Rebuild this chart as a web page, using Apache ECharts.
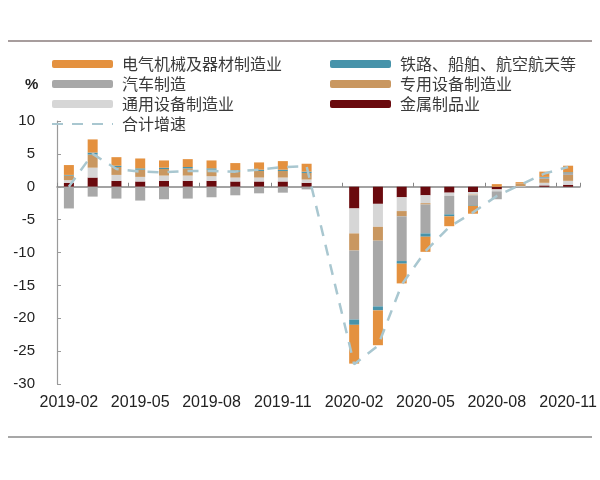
<!DOCTYPE html>
<html>
<head>
<meta charset="utf-8">
<script src="https://cdn.jsdelivr.net/npm/echarts@6/dist/echarts.min.js"></script>
<style>html,body{margin:0;padding:0;background:#fff;}#c{width:600px;height:480px;}</style>
</head>
<body>
<div id="c"></div>
<script>
const categories = ['2019-02','2019-03','2019-04','2019-05','2019-06','2019-07','2019-08','2019-09','2019-10','2019-11','2019-12',
  '2020-01','2020-02','2020-03','2020-04','2020-05','2020-06','2020-07','2020-08','2020-09','2020-10','2020-11'];

const metal     = [0.6, 1.4, 0.9, 0.8, 0.9, 0.9, 0.9, 0.8, 0.8, 0.8, 0.6, null, -3.3, -2.6, -1.6, -1.3, -0.9, -0.8, -0.4, 0.0, 0.2, 0.3];
const general   = [0.4, 1.5, 0.9, 0.7, 0.8, 0.8, 0.7, 0.6, 0.6, 0.6, 0.5, null, -3.8, -3.5, -2.1, -1.2, -0.5, -0.4, -0.3, 0.1, 0.4, 0.6];
const special   = [0.7, 2.0, 1.2, 1.1, 1.0, 1.1, 1.0, 0.9, 1.0, 1.0, 1.0, null, -2.6, -2.1, -0.8, -0.2, 0.0, -0.1, 0.0, 0.4, 0.6, 0.9];
const auto      = [-3.3, -1.5, -1.8, -2.1, -1.9, -1.8, -1.6, -1.3, -1.0, -0.9, -0.4, null, -10.5, -10.0, -6.8, -4.4, -2.8, -1.5, -1.2, 0.0, 0.2, 0.3];
const transport = [0.1, 0.3, 0.2, 0.2, 0.2, 0.2, 0.2, 0.2, 0.2, 0.2, 0.2, null, -0.8, -0.6, -0.4, -0.5, -0.3, -0.1, 0.0, 0.0, 0.1, 0.1];
const electric  = [1.5, 2.0, 1.3, 1.5, 1.1, 1.2, 1.2, 1.1, 1.1, 1.3, 1.2, null, -5.9, -5.3, -3.0, -2.3, -1.5, -1.2, 0.4, 0.2, 0.8, 1.0];
const total     = [0.0, 5.0, 2.7, 2.3, 2.2, 2.4, 2.4, 2.3, 2.6, 3.0, 3.1, null, -27.0, -24.2, -14.9, -9.8, -6.1, -3.9, -1.4, 0.3, 2.0, 3.0];

const yTicks = { min: -30, max: 10, interval: 5 };

const names = {
  electric: '电气机械及器材制造业',
  transport: '铁路、船舶、航空航天等',
  auto: '汽车制造',
  special: '专用设备制造业',
  general: '通用设备制造业',
  metal: '金属制品业',
  total: '合计增速'
};
const colors = {
  electric: '#e4913f',
  transport: '#4793aa',
  auto: '#a8a8a8',
  special: '#c99760',
  general: '#d6d6d6',
  metal: '#6a0a0e',
  total: '#a9c7d0'
};

const chart = echarts.init(document.getElementById('c'));
const cjk = '"Noto Sans CJK SC", sans-serif';
const lat = '"Liberation Sans", Arial, sans-serif';

function bar(key, data) {
  return {
    name: names[key], type: 'bar', stack: 'a', data: data,
    barWidth: 10, xAxisIndex: 0, yAxisIndex: 0,
    itemStyle: { color: colors[key] }
  };
}

const legendText = { fontFamily: cjk, fontSize: 16, color: '#3a3a3a', padding: [0, 0, 0, 4] };

chart.setOption({
  animation: false,
  backgroundColor: '#fff',
  grid: { left: 57, right: 20, top: 121, bottom: 96, containLabel: false },
  legend: [
    {
      orient: 'vertical', left: 51, top: 56, padding: 0, itemWidth: 61, itemHeight: 8, itemGap: 4,
      textStyle: legendText,
      data: [names.electric, names.auto, names.general,
        { name: names.total, itemStyle: { opacity: 0 } }]
    },
    {
      orient: 'vertical', left: 330, top: 56, padding: 0, itemWidth: 61, itemHeight: 8, itemGap: 4,
      textStyle: legendText,
      data: [names.transport, names.special, names.metal]
    }
  ],
  xAxis: [
    {
      type: 'category', data: categories, position: 'bottom',
      axisLine: { show: false, onZero: false },
      axisTick: { show: false },
      axisLabel: { interval: 2, fontFamily: lat, fontSize: 16, color: '#222', margin: 11 }
    },
    {
      type: 'category', data: categories, position: 'bottom',
      axisLine: { show: true, onZero: true, lineStyle: { color: '#858585', width: 1.5 } },
      axisTick: { show: true, inside: true, interval: 2, length: 4, lineStyle: { color: '#858585' } },
      axisLabel: { show: false }
    }
  ],
  yAxis: {
    type: 'value', min: yTicks.min, max: yTicks.max, interval: yTicks.interval,
    axisLine: { show: true, lineStyle: { color: '#9a9a9a', width: 1.2 } },
    axisTick: { show: true, inside: true, length: 4, lineStyle: { color: '#9a9a9a' } },
    splitLine: { show: false },
    axisLabel: { fontFamily: lat, fontSize: 15, color: '#222', margin: 22 }
  },
  graphic: [
    { type: 'line', shape: { x1: 8, y1: 41, x2: 592, y2: 41 }, style: { stroke: '#8a7d7d', lineWidth: 1.5 } },
    { type: 'line', shape: { x1: 8, y1: 437, x2: 592, y2: 437 }, style: { stroke: '#8a8a8a', lineWidth: 1.5 } },
    { type: 'text', left: 25, top: 77, style: { text: '%', font: 'bold 15px "Liberation Sans", Arial, sans-serif', fill: '#222' } }
  ],
  series: [
    bar('metal', metal),
    bar('general', general),
    bar('special', special),
    bar('auto', auto),
    bar('transport', transport),
    bar('electric', electric),
    {
      name: names.total, type: 'line', data: total, connectNulls: true,
      symbol: 'none', xAxisIndex: 0, yAxisIndex: 0, z: 5,
      lineStyle: { color: colors.total, width: 2.5, type: [11, 9] },
      itemStyle: { color: colors.total }
    }
  ]
});
</script>
</body>
</html>
